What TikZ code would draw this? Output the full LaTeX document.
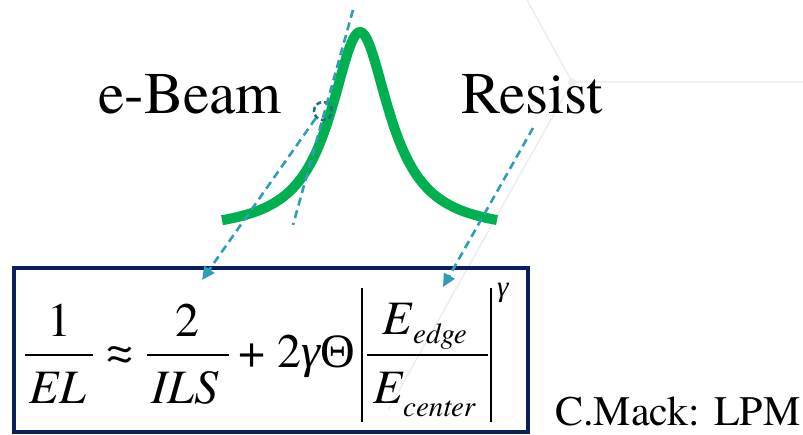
\documentclass[tikz,border=0pt]{standalone}
\usepackage{fontspec}
\setmainfont{TeX Gyre Termes}
\newfontfamily\tnr{TeX Gyre Termes}
\newfontfamily\grk{Liberation Serif}
\usetikzlibrary{arrows.meta}
\definecolor{cgreen}{HTML}{00B050}
\definecolor{cteal}{HTML}{2E9DB5}
\definecolor{cring}{HTML}{1F6E88}
\definecolor{cnavy}{HTML}{0B1F5C}
\definecolor{cfaint}{HTML}{EDEDED}
\begin{document}
\begin{tikzpicture}[x=1pt,y=-1pt,
  lbl/.style={inner sep=0pt, anchor=base west, font=\tnr\fontsize{59}{59}\selectfont},
  mth/.style={inner sep=0pt, anchor=base, font=\tnr\fontsize{48}{48}\selectfont},
  mthw/.style={inner sep=0pt, anchor=base west, font=\tnr\fontsize{48}{48}\selectfont},
  sub/.style={inner sep=0pt, anchor=base west, font=\tnr\fontsize{29}{29}\selectfont\itshape},
  dsh/.style={cteal, line width=2.6pt, dash pattern=on 8pt off 5pt},
  tipa/.style={-{Triangle[length=13pt,width=12pt]}},
  fbar/.style={line width=1.8pt},
  vbar/.style={line width=1.8pt}]
\useasboundingbox (0,0) rectangle (803,435);
% faint background lines
\draw[cfaint, line width=1.5pt] (527,0) -- (572,82) -- (803,82);
\draw[cfaint, line width=1.5pt] (572,82) -- (388,410);
\fill[cfaint] (572,82) circle (4);
% labels
\node[lbl] (ebeam) at (98,114) {e-Beam};
\node[lbl] (resist) at (461,114) {Resist};
\node[inner sep=0pt, anchor=base west, font=\tnr\fontsize{42}{42}\selectfont] (mack) at (555,425) {C.Mack: LPM};
% curve
\draw[cgreen, line width=10pt] plot[domain=222:497, samples=150] (\x, {233-201/(1+((\x-360)/36)^2)});
% box
\draw[cnavy, line width=4pt] (14,268) rectangle (528,432);
% formula
\node[mth] (one) at (59,337) {1};
\draw[fbar] (25,355) -- (93,355);
\node[mth] (el) at (58,403) {\itshape EL};
\node[mth] (approx) at (120,367) {≈};
\node[mth] (two) at (187,337) {2};
\draw[fbar] (147,355) -- (229,355);
\node[mth] (ils) at (185,403) {\itshape ILS};
\node[mth] (plus) at (252,367) {+};
\node[mthw] (tgt) at (277,367) {2{\grk\itshape γ}{\grk Θ}};
\draw[vbar] (362,288) -- (362,422);
\draw[vbar] (491,288) -- (491,422);
\draw[fbar] (367,355) -- (488,355);
\node[mthw] (ee) at (382,335) {\itshape E};
\node[sub] (edge) at (413,344) {edge};
\node[mthw] (ec) at (373,403) {\itshape E};
\node[sub] (center) at (403,417) {center};
\node[sub] (gam) at (497,297) {\grk γ};
% tangent and arrows
\node[draw=cring, circle, line width=2.5pt, dash pattern=on 5pt off 3pt, minimum size=18pt, inner sep=0pt] (ring) at (323,111) {};
\coordinate (tanA) at (353,10);
\coordinate (tanB) at (293,225);
\draw[dsh] (tanA) -- (tanB);
\coordinate (tipE) at (202,280);
\draw[dsh, tipa] (ring.225) -- (tipE);
\coordinate (rs) at (533,128);
\coordinate (tipR) at (443,287);
\draw[dsh, tipa] (rs) -- (tipR);
\end{tikzpicture}
\end{document}
